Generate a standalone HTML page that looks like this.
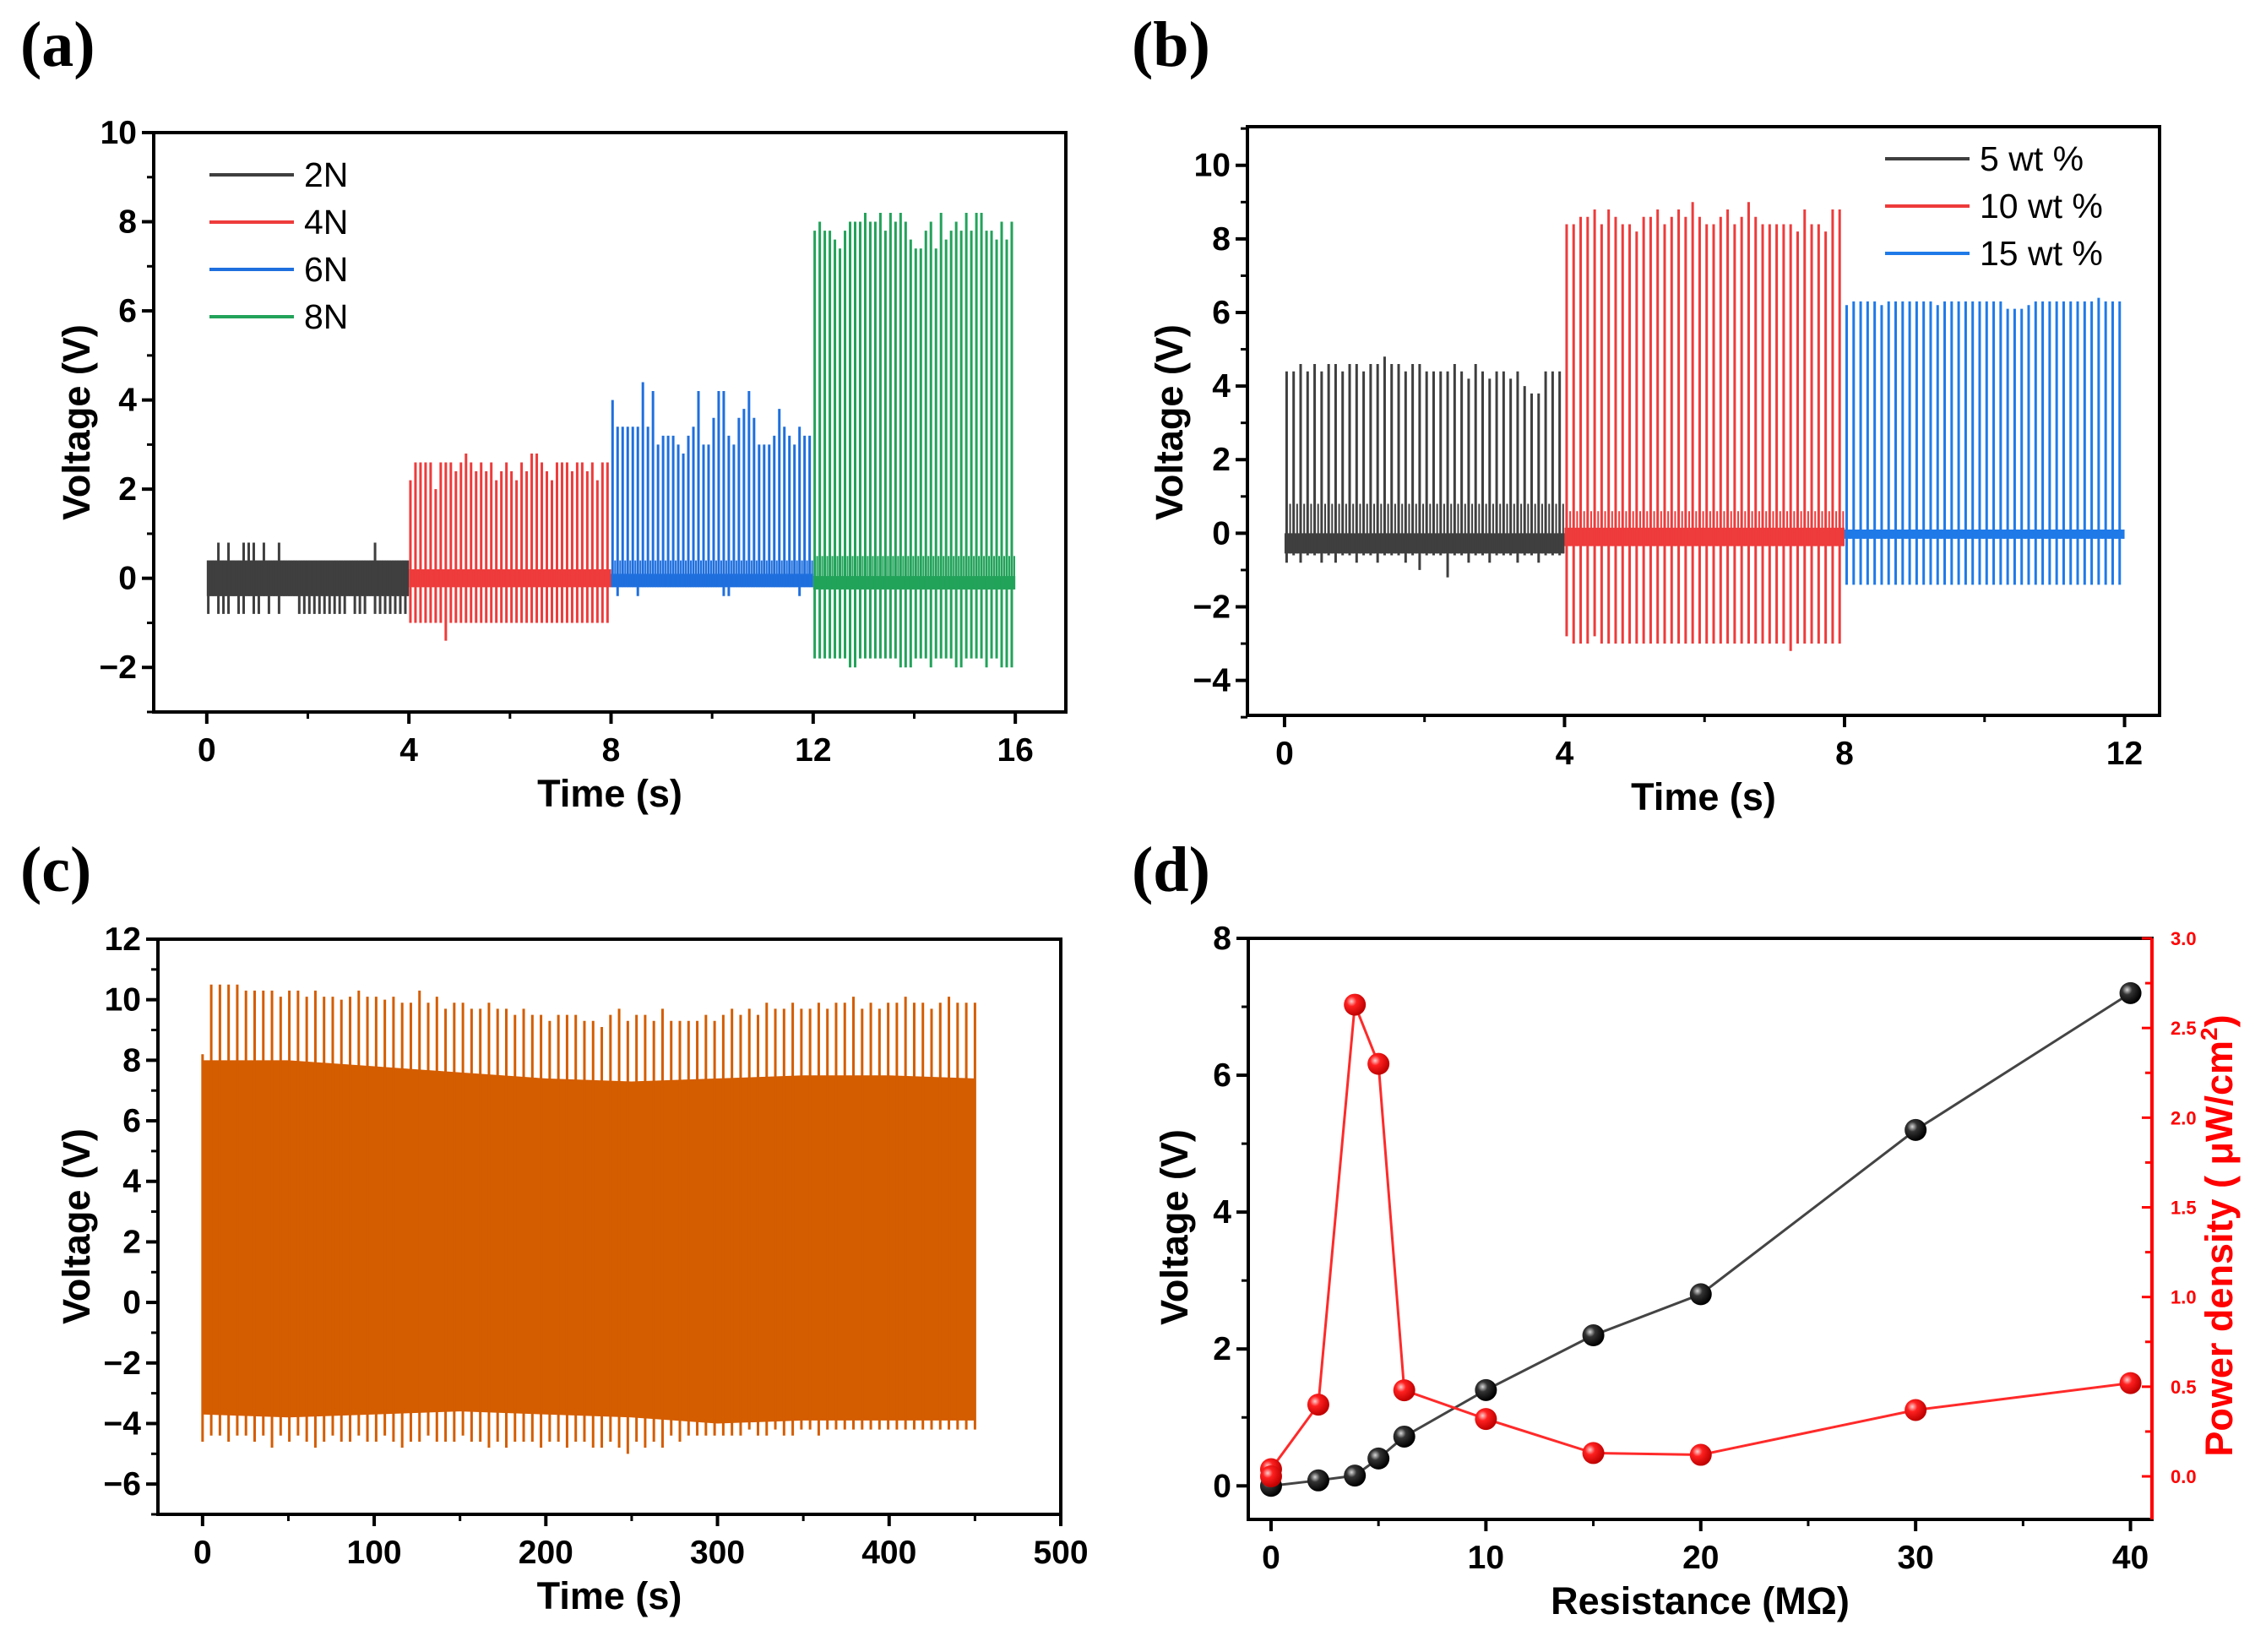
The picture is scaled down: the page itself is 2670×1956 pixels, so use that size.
<!DOCTYPE html>
<html><head><meta charset="utf-8">
<style>
html,body{margin:0;padding:0;background:#fff;}
svg{display:block;}
text{font-family:"Liberation Sans",Arial,sans-serif;}
</style></head>
<body>
<svg id="fig" xmlns="http://www.w3.org/2000/svg" width="2670" height="1956" viewBox="0 0 2670 1956">
<rect x="0" y="0" width="2670" height="1956" fill="#fff"/>
</svg>
<script>
// ---- Panel (a) data ----
const aSeg=['2N','4N','6N','8N'];
const aHigh2N=[0.4,0.4,0.8,0.4,0.8,0.4,0.4,0.8,0.8,0.8,0.4,0.8,0.4,0.4,0.8,0.4,0.4,0.4,0.4,0.4,0.4,0.4,0.4,0.4,0.4,0.4,0.4,0.4,0.4,0.4,0.4,0.4,0.4,0.8,0.4,0.4,0.4,0.4,0.4,0.4];
const aLow2N=[-0.8,-0.4,-0.8,-0.8,-0.8,-0.4,-0.8,-0.8,-0.4,-0.8,-0.8,-0.4,-0.8,-0.4,-0.8,-0.4,-0.4,-0.4,-0.8,-0.8,-0.8,-0.8,-0.8,-0.8,-0.8,-0.8,-0.8,-0.8,-0.4,-0.8,-0.8,-0.8,-0.4,-0.8,-0.8,-0.8,-0.8,-0.8,-0.8,-0.8];
const aHigh4N=[2.2,2.6,2.6,2.6,2.6,2.0,2.6,2.6,2.6,2.4,2.6,2.8,2.6,2.4,2.6,2.4,2.6,2.2,2.4,2.6,2.4,2.2,2.6,2.4,2.8,2.8,2.6,2.4,2.2,2.6,2.6,2.6,2.4,2.6,2.6,2.4,2.6,2.2,2.6,2.6];
const aLow4N=[-1.0,-1.0,-1.0,-1.0,-1.0,-1.0,-1.0,-1.4,-1.0,-1.0,-1.0,-1.0,-1.0,-1.0,-1.0,-1.0,-1.0,-1.0,-1.0,-1.0,-1.0,-1.0,-1.0,-1.0,-1.0,-1.0,-1.0,-1.0,-1.0,-1.0,-1.0,-1.0,-1.0,-1.0,-1.0,-1.0,-1.0,-1.0,-1.0,-1.0];
const aHigh6N=[4.0,3.4,3.4,3.4,3.4,3.4,4.4,3.4,4.2,3.0,3.2,3.2,3.2,3.0,2.8,3.2,3.4,4.2,3.0,3.0,3.6,4.2,4.2,3.2,3.0,3.6,3.8,4.2,3.6,3.0,3.0,3.0,3.2,3.8,3.4,3.2,3.0,3.4,3.2,3.2];
const aLow6N=[-0.2,-0.4,-0.2,-0.2,-0.2,-0.4,-0.2,-0.2,-0.2,-0.2,-0.2,-0.2,-0.2,-0.2,-0.2,-0.2,-0.2,-0.2,-0.2,-0.2,-0.2,-0.2,-0.4,-0.4,-0.2,-0.2,-0.2,-0.2,-0.2,-0.2,-0.2,-0.2,-0.2,-0.2,-0.2,-0.2,-0.2,-0.4,-0.2,-0.2];
const aHigh8N=[7.8,8.0,7.8,7.8,7.6,7.4,7.8,8.0,8.0,8.0,8.2,8.0,8.0,8.2,7.8,8.2,8.0,8.2,8.0,7.6,7.4,7.4,7.8,8.0,7.4,8.2,7.6,7.8,8.0,7.8,8.2,7.8,8.2,8.2,7.8,7.8,7.6,8.0,7.6,8.0];
const aLow8N=[-1.8,-1.8,-1.8,-1.8,-1.8,-1.8,-1.8,-2.0,-2.0,-1.8,-1.8,-1.8,-1.8,-1.8,-1.8,-1.8,-1.8,-2.0,-2.0,-2.0,-1.8,-1.8,-1.8,-2.0,-1.8,-1.8,-1.8,-1.8,-2.0,-2.0,-1.8,-1.8,-1.8,-1.8,-2.0,-1.8,-1.8,-2.0,-2.0,-2.0];
const aBandLo=[-0.4,-0.2,-0.2,-0.25];
const aBandHi=[0.4,0.2,0.1,0.05];
const aSub=[0.4,0.2,0.4,0.5];
const aXTicks=[0,4,8,12,16];
const aYTicks=[-2,0,2,4,6,8,10];

// ---- Panel (b) data ----
const bSeg=['5 wt %','10 wt %','15 wt %'];
const bHigh5=[4.4,4.4,4.6,4.4,4.6,4.4,4.6,4.6,4.4,4.6,4.6,4.4,4.6,4.6,4.8,4.6,4.6,4.4,4.6,4.6,4.4,4.4,4.4,4.4,4.6,4.4,4.2,4.6,4.4,4.2,4.4,4.4,4.2,4.4,4.0,3.8,3.8,4.4,4.4,4.4];
const bLow5=[-0.8,-0.6,-0.8,-0.6,-0.6,-0.8,-0.6,-0.8,-0.6,-0.6,-0.8,-0.6,-0.6,-0.8,-0.6,-0.6,-0.6,-0.8,-0.6,-1.0,-0.6,-0.6,-0.6,-1.2,-0.6,-0.6,-0.8,-0.6,-0.6,-0.8,-0.6,-0.6,-0.6,-0.8,-0.6,-0.6,-0.8,-0.6,-0.6,-0.6];
const bHigh10=[8.4,8.4,8.6,8.6,8.8,8.4,8.8,8.6,8.4,8.4,8.2,8.6,8.6,8.8,8.4,8.6,8.8,8.6,9.0,8.6,8.4,8.4,8.6,8.8,8.4,8.6,9.0,8.6,8.4,8.4,8.4,8.4,8.4,8.2,8.8,8.4,8.4,8.2,8.8,8.8];
const bLow10=[-2.8,-3.0,-3.0,-3.0,-2.8,-3.0,-3.0,-3.0,-3.0,-3.0,-3.0,-3.0,-3.0,-3.0,-3.0,-3.0,-3.0,-3.0,-3.0,-3.0,-3.0,-3.0,-3.0,-3.0,-3.0,-3.0,-3.0,-3.0,-3.0,-3.0,-3.0,-3.0,-3.2,-3.0,-3.0,-3.0,-3.0,-3.0,-3.0,-3.0];
const bHigh15=[6.2,6.3,6.3,6.3,6.3,6.2,6.3,6.3,6.3,6.3,6.3,6.3,6.3,6.2,6.3,6.3,6.3,6.3,6.3,6.3,6.3,6.3,6.3,6.1,6.1,6.1,6.2,6.3,6.3,6.3,6.3,6.3,6.3,6.3,6.3,6.3,6.4,6.3,6.3,6.3];
const bLow15=[-1.4,-1.4,-1.4,-1.4,-1.4,-1.4,-1.4,-1.4,-1.4,-1.4,-1.4,-1.4,-1.4,-1.4,-1.4,-1.4,-1.4,-1.4,-1.4,-1.4,-1.4,-1.4,-1.4,-1.4,-1.4,-1.4,-1.4,-1.4,-1.4,-1.4,-1.4,-1.4,-1.4,-1.4,-1.4,-1.4,-1.4,-1.4,-1.4,-1.4];
const bBandLo=[-0.55,-0.35,-0.15];
const bBandHi=[0.0,0.15,0.1];
const bSub=[0.8,0.6,0.1];
const bXTicks=[0,4,8,12];
const bYTicks=[-4,-2,0,2,4,6,8,10];

// ---- Panel (c) data ----
const cHigh=[8.2,10.5,10.5,10.5,10.5,10.3,10.3,10.3,10.3,10.1,10.3,10.3,10.1,10.3,10.1,10.1,10.0,10.1,10.3,10.1,10.1,10.0,10.1,9.9,9.9,10.3,9.9,10.1,9.7,9.9,9.9,9.7,9.7,9.9,9.7,9.7,9.5,9.7,9.5,9.5,9.3,9.5,9.5,9.5,9.3,9.3,9.1,9.5,9.7,9.3,9.5,9.5,9.3,9.7,9.3,9.3,9.3,9.3,9.5,9.3,9.5,9.7,9.5,9.7,9.5,9.9,9.7,9.7,9.9,9.7,9.7,9.9,9.7,9.9,9.9,10.1,9.7,9.9,9.7,9.9,9.9,10.1,9.9,9.9,9.7,9.9,10.1,9.9,9.9,9.9];
const cLow=[-4.6,-4.4,-4.4,-4.6,-4.4,-4.4,-4.6,-4.4,-4.8,-4.4,-4.6,-4.4,-4.6,-4.8,-4.6,-4.4,-4.6,-4.6,-4.4,-4.6,-4.6,-4.4,-4.6,-4.8,-4.6,-4.6,-4.4,-4.6,-4.6,-4.6,-4.4,-4.6,-4.6,-4.8,-4.6,-4.8,-4.6,-4.6,-4.6,-4.8,-4.6,-4.6,-4.8,-4.6,-4.6,-4.8,-4.8,-4.6,-4.8,-5.0,-4.6,-4.8,-4.6,-4.8,-4.4,-4.6,-4.4,-4.4,-4.4,-4.4,-4.4,-4.4,-4.4,-4.2,-4.4,-4.4,-4.2,-4.4,-4.4,-4.2,-4.2,-4.4,-4.2,-4.2,-4.2,-4.2,-4.2,-4.2,-4.2,-4.2,-4.2,-4.2,-4.2,-4.2,-4.2,-4.2,-4.2,-4.2,-4.2,-4.2];
const cBodyTop=[8.0,8.0,7.8,7.6,7.4,7.3,7.4,7.5,7.5,7.4];
const cBodyBot=[-3.7,-3.8,-3.7,-3.6,-3.7,-3.8,-4.0,-3.9,-3.9,-3.9];
const cTMax=450;
const cXTicks=[0,100,200,300,400,500];
const cYTicks=[-6,-4,-2,0,2,4,6,8,10,12];

// ---- Panel (d) data ----
const dRes=[0,2.2,3.9,5,6.2,10,15,20,30,40];
const dVolt=[0,0.08,0.15,0.4,0.72,1.4,2.2,2.8,5.2,7.2];
const dPow=[0.04,0.4,2.63,2.3,0.48,0.32,0.13,0.12,0.37,0.52];
const dXTicks=[0,10,20,30,40];
const dYTicks=[0,2,4,6,8];
const dY2Ticks=['0.0','0.5','1.0','1.5','2.0','2.5','3.0'];

const NS='http://www.w3.org/2000/svg';
const svg=document.getElementById('fig');
function mk(tag,attrs,parent,name,inter){
  const e=document.createElementNS(NS,tag);
  for(const k in attrs)e.setAttribute(k,attrs[k]);
  
  
  (parent||svg).appendChild(e);return e;
}
function scales(p){
  p.sx=v=>p.L+(v-p.x0)/(p.x1-p.x0)*(p.R-p.L);
  p.sy=v=>p.B-(v-p.y0)/(p.y1-p.y0)*(p.B-p.T);
  return p;
}
function axes(p,g,xt,yt,xminor,yminor,xlab,ylab,labX,labY){
  mk('rect',{x:p.L,y:p.T,width:p.R-p.L,height:p.B-p.T,fill:'none',stroke:'#000','stroke-width':4},g,'plot-frame',false);
  xt.forEach(v=>{const x=p.sx(v);
    mk('line',{x1:x,x2:x,y1:p.B,y2:p.B+14,stroke:'#000','stroke-width':4},g,'x-tick',false);
    const t=mk('text',{x:x,y:p.B+58,'text-anchor':'middle','font-size':39,'font-weight':'bold'},g,'x-tick-label',false);t.textContent=v;});
  xminor.forEach(v=>{const x=p.sx(v);mk('line',{x1:x,x2:x,y1:p.B,y2:p.B+8,stroke:'#000','stroke-width':3},g,'x-minor-tick',false);});
  yt.forEach(v=>{const y=p.sy(v);
    mk('line',{x1:p.L-14,x2:p.L,y1:y,y2:y,stroke:'#000','stroke-width':4},g,'y-tick',false);
    const t=mk('text',{x:p.L-20,y:y+13,'text-anchor':'end','font-size':39,'font-weight':'bold'},g,'y-tick-label',false);t.textContent=(v<0?'\u2212'+(-v):v);});
  yminor.forEach(v=>{const y=p.sy(v);mk('line',{x1:p.L-8,x2:p.L,y1:y,y2:y,stroke:'#000','stroke-width':3},g,'y-minor-tick',false);});
  const xl=mk('text',{x:(p.L+p.R)/2,y:p.B+112,'text-anchor':'middle','font-size':45,'font-weight':'bold'},g,'x-axis-title',false);xl.textContent=xlab;
  const yl=mk('text',{x:0,y:0,'text-anchor':'middle','font-size':45,'font-weight':'bold',transform:`translate(${labX},${labY}) rotate(-90)`},g,'y-axis-title',false);yl.textContent=ylab;
}
function label(txt,x,y,name){const t=mk('text',{x:x,y:y,'font-size':76,'font-weight':'bold',style:'font-family:"Liberation Serif",serif'},svg,name,false);t.textContent=txt;}
function pulses(p,g,t0,t1,highs,lows,bandLo,bandHi,sub,color,name){
  const n=highs.length,dt=(t1-t0)/n;
  mk('rect',{x:p.sx(t0),y:p.sy(bandHi),width:p.sx(t1)-p.sx(t0),height:p.sy(bandLo)-p.sy(bandHi),fill:color},g,name+'-baseline',false);
  for(let i=0;i<n;i++){
    const t=t0+(i+0.3)*dt,x=p.sx(t);
    mk('line',{x1:x,x2:x,y1:p.sy(lows[i]),y2:p.sy(highs[i]),stroke:color,'stroke-width':3},g,name+'-pulse',false);
    const x2=p.sx(t+dt*0.5);
    mk('line',{x1:x2,x2:x2,y1:p.sy(bandLo),y2:p.sy(sub),stroke:color,'stroke-width':2},g,name+'-subpulse',false);
  }
}
function legend(g,items,colors,lx,ly,gap,name){
  items.forEach((s,i)=>{const y=ly+i*gap;
    mk('line',{x1:lx,x2:lx+100,y1:y,y2:y,stroke:colors[i],'stroke-width':4},g,name+'-line',false);
    const t=mk('text',{x:lx+112,y:y+14,'font-size':41},g,name+'-label',false);t.textContent=s;});
}

// Panel a
label('(a)',24,78,'panel-label-a');
const pa=scales({L:182,R:1262,T:157,B:843,x0:-1.05,x1:17,y0:-3,y1:10});
const ga=mk('g',{},svg,'panel-a',false);
const aCol=['#3f3f3f','#ee3b3b','#1f6fde','#22a35a'];
const aH=[aHigh2N,aHigh4N,aHigh6N,aHigh8N],aL=[aLow2N,aLow4N,aLow6N,aLow8N];
aSeg.forEach((s,i)=>pulses(pa,ga,i*4,i*4+4,aH[i],aL[i],aBandLo[i],aBandHi[i],aSub[i],aCol[i],'series-'+s));
axes(pa,ga,aXTicks,aYTicks,[2,6,10,14],[-3,-1,1,3,5,7,9],'Time (s)','Voltage (V)',106,500);
legend(ga,aSeg,aCol,248,207,56,'legend-a');

// Panel b
label('(b)',1340,78,'panel-label-b');
const pb=scales({L:1477,R:2557,T:150,B:847,x0:-0.53,x1:12.5,y0:-4.95,y1:11.05});
const gb=mk('g',{},svg,'panel-b',false);
const bCol=['#3f3f3f','#ee3b3b','#1f7ae8'];
const bH=[bHigh5,bHigh10,bHigh15],bL=[bLow5,bLow10,bLow15];
bSeg.forEach((s,i)=>pulses(pb,gb,i*4,i*4+4,bH[i],bL[i],bBandLo[i],bBandHi[i],bSub[i],bCol[i],'series-'+s.replace(/ /g,'')));
axes(pb,gb,bXTicks,bYTicks,[2,6,10],[-5,-3,-1,1,3,5,7,9,11],'Time (s)','Voltage (V)',1400,500);
legend(gb,bSeg,bCol,2232,188,56,'legend-b');

// Panel c
label('(c)',24,1055,'panel-label-c');
const pc=scales({L:187,R:1256,T:1112,B:1793,x0:-26,x1:500,y0:-7,y1:12});
const gc=mk('g',{},svg,'panel-c',false);
const cc='#d45d00';
let pts=[];
cBodyTop.forEach((v,i)=>pts.push(pc.sx(i*cTMax/(cBodyTop.length-1))+','+pc.sy(v)));
for(let i=cBodyBot.length-1;i>=0;i--)pts.push(pc.sx(i*cTMax/(cBodyBot.length-1))+','+pc.sy(cBodyBot[i]));
mk('polygon',{points:pts.join(' '),fill:cc},gc,'signal-body',false);
cHigh.forEach((v,i)=>{const x=pc.sx(i*cTMax/(cHigh.length-1));
  mk('line',{x1:x,x2:x,y1:pc.sy(cLow[i]),y2:pc.sy(v),stroke:cc,'stroke-width':3},gc,'signal-pulse',false);});
axes(pc,gc,cXTicks,cYTicks,[50,150,250,350,450],[-7,-5,-3,-1,1,3,5,7,9,11],'Time (s)','Voltage (V)',106,1452);

// Panel d
label('(d)',1340,1055,'panel-label-d');
const pd=scales({L:1478,R:2548,T:1111,B:1799,x0:-1.06,x1:41.0,y0:-0.49,y1:8});
const y2=v=>pd.B-(v-(-0.24))/(3.24)*(pd.B-pd.T);
const gd=mk('g',{},svg,'panel-d',false);
const defs=mk('defs',{},svg,'defs',false);
const gk=mk('radialGradient',{id:'gk',cx:'35%',cy:'35%',r:'65%'},defs,'black-sphere-gradient',false);
mk('stop',{offset:'0',  'stop-color':'#d8d8d8'},gk,'stop',false);
mk('stop',{offset:'0.35','stop-color':'#333'},gk,'stop',false);
mk('stop',{offset:'1',  'stop-color':'#000'},gk,'stop',false);
const gr=mk('radialGradient',{id:'gr',cx:'35%',cy:'35%',r:'65%'},defs,'red-sphere-gradient',false);
mk('stop',{offset:'0',  'stop-color':'#ffd0d0'},gr,'stop',false);
mk('stop',{offset:'0.35','stop-color':'#ff2020'},gr,'stop',false);
mk('stop',{offset:'1',  'stop-color':'#c00000'},gr,'stop',false);
mk('polyline',{points:dRes.map((r,i)=>pd.sx(r)+','+pd.sy(dVolt[i])).join(' '),fill:'none',stroke:'#444','stroke-width':3},gd,'voltage-line',false);
mk('polyline',{points:dRes.map((r,i)=>pd.sx(r)+','+y2(dPow[i])).join(' '),fill:'none',stroke:'#ff2a2a','stroke-width':3},gd,'power-line',false);
dRes.forEach((r,i)=>mk('circle',{cx:pd.sx(r),cy:pd.sy(dVolt[i]),r:13,fill:'url(#gk)'},gd,'voltage-point',false));
dRes.forEach((r,i)=>mk('circle',{cx:pd.sx(r),cy:y2(dPow[i]),r:13,fill:'url(#gr)'},gd,'power-point',false));
mk('circle',{cx:pd.sx(0),cy:y2(0),r:13,fill:'url(#gr)'},gd,'power-point-zero',false);
axes(pd,gd,dXTicks,dYTicks,[5,15,25,35],[1,3,5,7],'Resistance (M\u03A9)','Voltage (V)',1406,1453);
mk('line',{x1:pd.R,x2:pd.R,y1:pd.T,y2:pd.B,stroke:'#ff0000','stroke-width':4},gd,'right-axis',false);
dY2Ticks.forEach(s=>{const y=y2(+s);
  mk('line',{x1:pd.R-12,x2:pd.R,y1:y,y2:y,stroke:'#ff0000','stroke-width':3},gd,'right-tick',false);
  const t=mk('text',{x:pd.R+22,y:y+8,'font-size':22,'font-weight':'bold',fill:'#ff0000'},gd,'right-tick-label',false);t.textContent=s;});
[0.25,0.75,1.25,1.75,2.25,2.75].forEach(v=>{const y=y2(v);mk('line',{x1:pd.R-8,x2:pd.R,y1:y,y2:y,stroke:'#ff0000','stroke-width':3},gd,'right-minor-tick',false);});
const rt=mk('text',{x:0,y:0,'text-anchor':'middle','font-size':45,'font-weight':'bold',fill:'#ff0000',transform:'translate(2643,1463) rotate(-90)'},gd,'right-axis-title',false);
rt.innerHTML='Power density ( \u03BCW/cm<tspan dy="-18" font-size="28">2</tspan><tspan dy="18">)</tspan>';
</script>
</body></html>
